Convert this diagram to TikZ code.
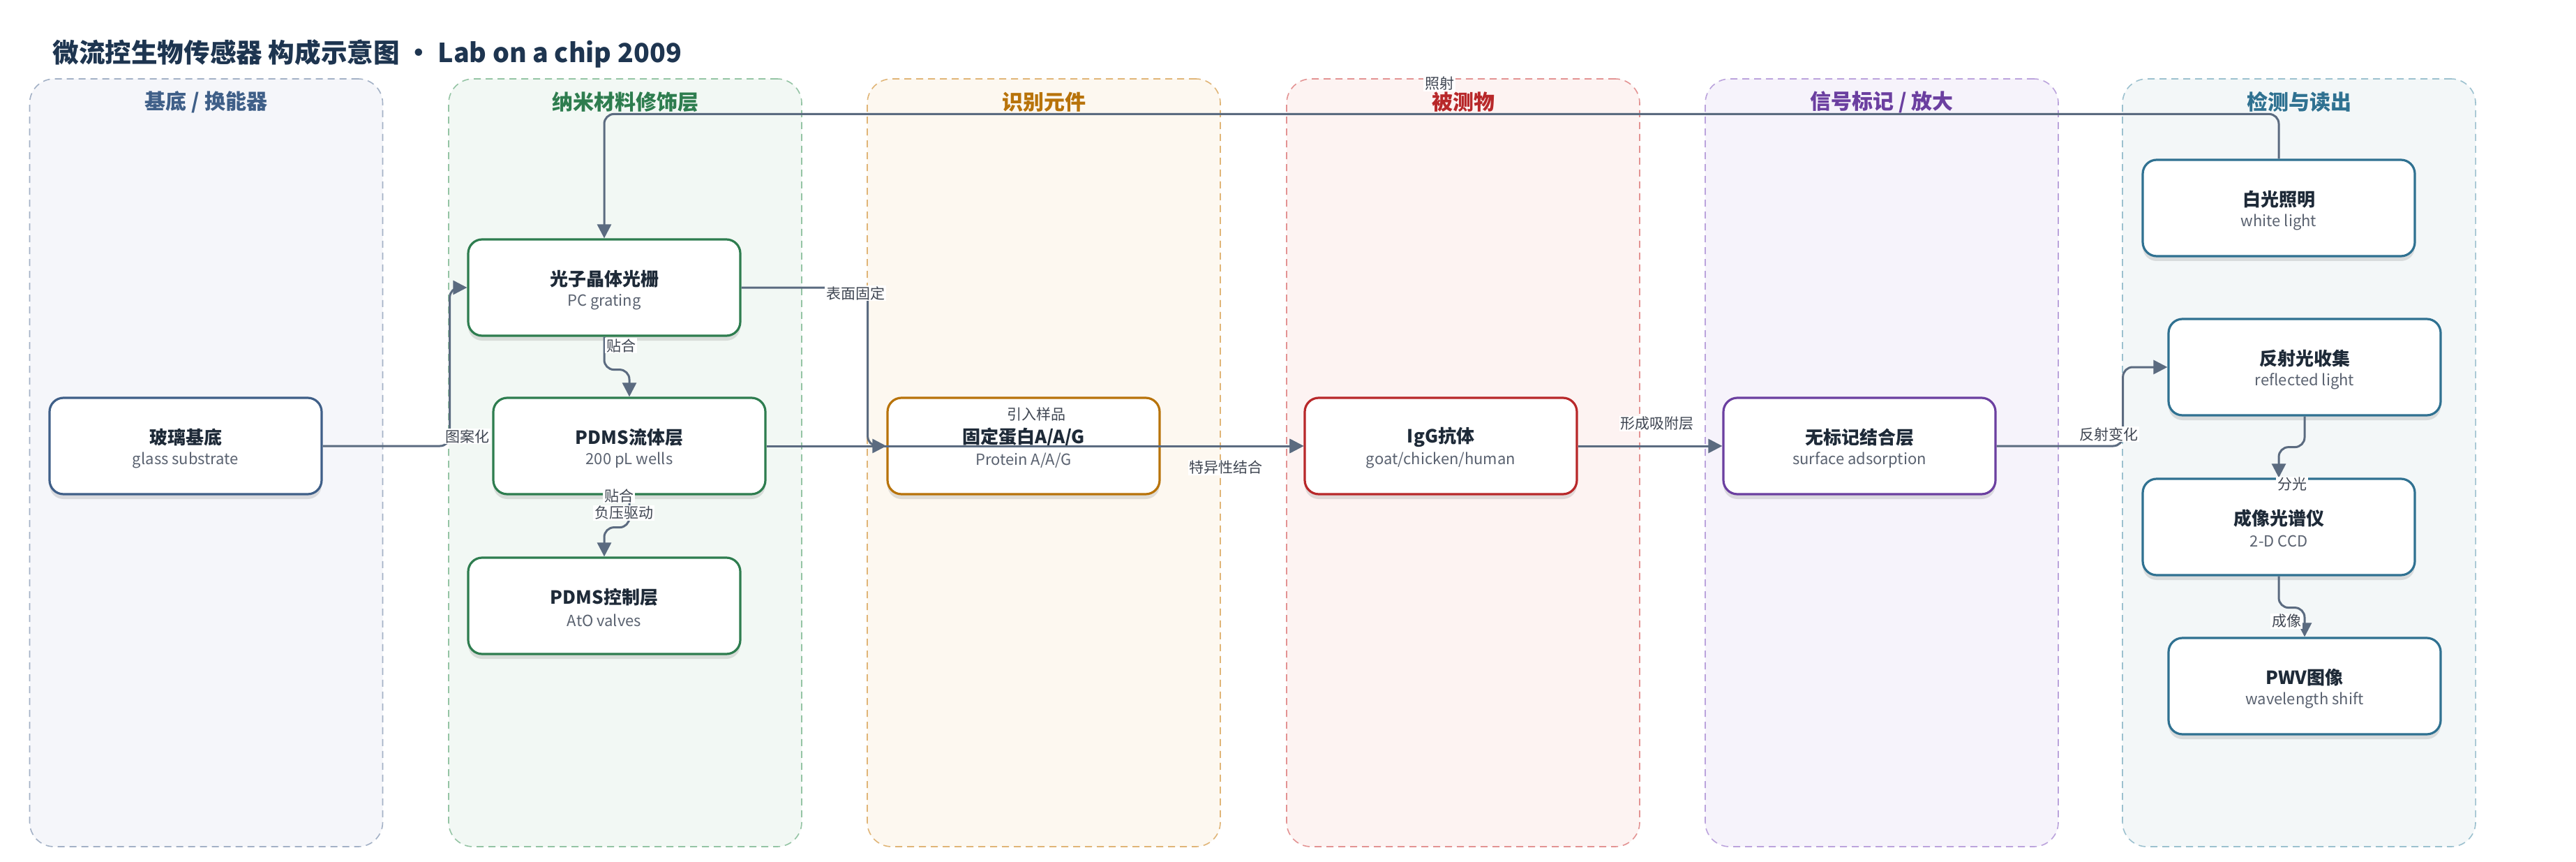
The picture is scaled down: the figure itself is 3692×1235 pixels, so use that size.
\documentclass[tikz,border=0pt]{standalone}
\usepackage{fontspec}
\setmainfont{Noto Sans CJK SC}
\usetikzlibrary{arrows.meta,shadows}

\definecolor{cA}{HTML}{3F5F88}
\definecolor{cB}{HTML}{2E7D4F}
\definecolor{cC}{HTML}{B8730A}
\definecolor{cD}{HTML}{B8282A}
\definecolor{cE}{HTML}{6B3FA0}
\definecolor{cF}{HTML}{2F7191}
\definecolor{LfA}{HTML}{F5F6FA}
\definecolor{LfB}{HTML}{F2F8F4}
\definecolor{LfC}{HTML}{FDF8F0}
\definecolor{LfD}{HTML}{FDF3F2}
\definecolor{LfE}{HTML}{F6F3FB}
\definecolor{LfF}{HTML}{F3F7F8}
\definecolor{LbA}{HTML}{A3B1C6}
\definecolor{LbB}{HTML}{94C4A4}
\definecolor{LbC}{HTML}{E0B577}
\definecolor{LbD}{HTML}{E39393}
\definecolor{LbE}{HTML}{BBA3DC}
\definecolor{LbF}{HTML}{9CC1CF}
\definecolor{ink}{HTML}{1E2A38}
\definecolor{titleink}{HTML}{1E3550}
\definecolor{subgray}{HTML}{5A6270}
\definecolor{lblgray}{HTML}{3F4652}
\definecolor{edgec}{HTML}{5B6B80}

\newcommand\mkbox[5]{%
  \node[cbox=#3] (#1) at #2 {};
  \node[ttl] (#1-t) at ([yshift=6.25pt]#1.center) {#4};
  \node[subt] (#1-s) at ([yshift=-10.25pt]#1.center) {#5};
}

\tikzset{
  lane/.style={rounded corners=17.5pt, dash pattern=on 5pt off 3.5pt, line width=0.8pt,
    minimum width=253pt, minimum height=550pt, inner sep=0pt},
  lanettl/.style={font=\bfseries\fontsize{15}{18}\selectfont},
  cbox/.style={draw=#1, line width=1.6pt, fill=white, rounded corners=10pt,
    minimum width=195pt, minimum height=69pt, inner sep=0pt,
    drop shadow={shadow xshift=0pt, shadow yshift=-3.5pt, opacity=0.16, fill=black!70}},
  ttl/.style={font=\bfseries\fontsize{13}{15}\selectfont, text=ink, inner sep=0pt},
  subt/.style={font=\fontsize{11}{13}\selectfont, text=subgray, inner sep=0pt},
  lbl/.style={font=\fontsize{10.5}{12}\selectfont, text=lblgray, fill=white, inner sep=0.8pt},
  conn/.style={draw=edgec, line width=1.5pt, rounded corners=7pt,
    -{Triangle[length=10pt,width=10pt]}},
}

\begin{document}
\begin{tikzpicture}[x=0.5pt,y=-0.5pt]
\useasboundingbox[fill=white] (0,0) rectangle (3692,1235);

\node[anchor=west, font=\bfseries\fontsize{18.8}{22}\selectfont, text=titleink, inner sep=0pt]
  (title) at (75,77) {微流控生物传感器 构成示意图 · Lab on a chip 2009};

% lanes
\node[lane, draw=LbA, fill=LfA] (lane1) at (295.5,663) {};
\node[lane, draw=LbB, fill=LfB] (lane2) at (896,663) {};
\node[lane, draw=LbC, fill=LfC] (lane3) at (1496,663) {};
\node[lane, draw=LbD, fill=LfD] (lane4) at (2097,663) {};
\node[lane, draw=LbE, fill=LfE] (lane5) at (2697,663) {};
\node[lane, draw=LbF, fill=LfF] (lane6) at (3295,663) {};

\node[lanettl, text=cA] (lane1-t) at (295.5,146) {基底 / 换能器};
\node[lanettl, text=cB] (lane2-t) at (896,146) {纳米材料修饰层};
\node[lanettl, text=cC] (lane3-t) at (1496,146) {识别元件};
\node[lanettl, text=cD] (lane4-t) at (2097,146) {被测物};
\node[lanettl, text=cE] (lane5-t) at (2697,146) {信号标记 / 放大};
\node[lanettl, text=cF] (lane6-t) at (3295,146) {检测与读出};

% nodes
\mkbox{glass}{(266,639)}{cA}{玻璃基底}{glass substrate}
\mkbox{grating}{(866,412)}{cB}{光子晶体光栅}{PC grating}
\mkbox{fluid}{(902,639)}{cB}{PDMS流体层}{200 pL wells}
\mkbox{ctrl}{(866,868)}{cB}{PDMS控制层}{AtO valves}
\mkbox{prot}{(1467,639)}{cC}{固定蛋白A/A/G}{Protein A/A/G}
\mkbox{igg}{(2065,639)}{cD}{IgG抗体}{goat/chicken/human}
\mkbox{surf}{(2665,639)}{cE}{无标记结合层}{surface adsorption}
\mkbox{white}{(3266,298)}{cF}{白光照明}{white light}
\mkbox{refl}{(3303,526)}{cF}{反射光收集}{reflected light}
\mkbox{ccd}{(3266,755)}{cF}{成像光谱仪}{2-D CCD}
\mkbox{pwv}{(3303,983)}{cF}{PWV图像}{wavelength shift}

% connectors
\draw[conn] (glass.east) -- ++(182,0) |- (grating.west);
\draw[conn] (grating.south) -- ++(0,47) -| (fluid.north);
\draw[conn] (fluid.south) -- ++(0,46) -| (ctrl.north);
\draw[conn] (grating.east) -- ++(181,0) |- (prot.west);
\draw[conn] (fluid.east) -- (igg.west);
\draw[conn] (prot.east) -- (igg.west);
\draw[conn] (igg.east) -- (surf.west);
\draw[conn] (surf.east) -- ++(181,0) |- (refl.west);
\draw[conn] (refl.south) -- ++(0,44) -| (ccd.north);
\draw[conn] (ccd.south) -- ++(0,45) -| (pwv.north);
\draw[conn] (white.north) -- ++(0,-64) -| (grating.north);

% connector labels
\node[lbl] (l-pat) at (670,625) {图案化};
\node[lbl] (l-fit1) at (890,495) {贴合};
\node[lbl] (l-fit2) at (887,710) {贴合};
\node[lbl] (l-neg) at (894,735) {负压驱动};
\node[lbl] (l-fix) at (1226,420) {表面固定};
\node[lbl] (l-samp) at (1485,593) {引入样品};
\node[lbl] (l-spec) at (1757,670) {特异性结合};
\node[lbl] (l-ads) at (2375,607) {形成吸附层};
\node[lbl] (l-refl) at (3022,622) {反射变化};
\node[lbl] (l-split) at (3285,694) {分光};
\node[lbl] (l-img) at (3277,890) {成像};
\node[lbl] (l-ill) at (2063,120) {照射};
\end{tikzpicture}
\end{document}
